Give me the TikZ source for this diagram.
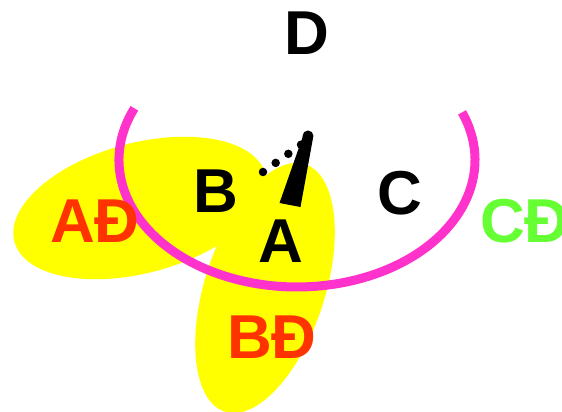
\documentclass[tikz,border=0pt]{standalone}
\usepackage{fontspec}
\setmainfont{Liberation Sans}
\begin{document}
\begin{tikzpicture}[x=1pt,y=1pt,
  blob/.style={fill=yellowfill},
  rim/.style={draw=rimpink,line width=9pt},
  lbl/.style={font=\bfseries\fontsize{62}{62}\selectfont,inner sep=0pt,anchor=base},
  dlbl/.style={lbl,text=redlabel},
]
\definecolor{yellowfill}{HTML}{FFFF00}
\definecolor{rimpink}{HTML}{FF33CC}
\definecolor{redlabel}{HTML}{FF3300}
\definecolor{greenlabel}{HTML}{66FF33}
\useasboundingbox (0,0) rectangle (562,412);

% yellow regions
\fill[blob,rotate around={15:(140,204)}] (140,204) ellipse [x radius=130pt,y radius=65pt];
\fill[blob,rotate around={-18:(265,124)}] (265,124) ellipse [x radius=60pt,y radius=130pt];

% open pink rim
\coordinate (rimstart) at (134.4,303.7);
\draw[rim] (rimstart) arc[start angle=156,end angle=382,x radius=178,y radius=127];

% pointer: tapered hand with a dotted trail
\coordinate (tip) at (308,276);
\coordinate (trail) at (263,240);
\fill (279.5,209) -- (300.5,205) -- (313,274) -- (303,276) -- cycle;
\fill (tip) circle (5.5pt);
\draw[line width=8.5pt,line cap=round,dash pattern=on 0pt off 15.6pt] (trail) -- (302,268);

% labels
\node[lbl] (D) at (307,357) {D};
\node[lbl] (B) at (216,199) {B};
\node[lbl] (C) at (400,197) {C};
\node[lbl] (A) at (281,149) {A};
\node[dlbl] (AD) at (95,169) {AĐ};
\node[dlbl] (BD) at (272,53) {BĐ};
\node[lbl,text=greenlabel,anchor=base west] (CD) at (480,169) {CĐ};
\end{tikzpicture}
\end{document}
